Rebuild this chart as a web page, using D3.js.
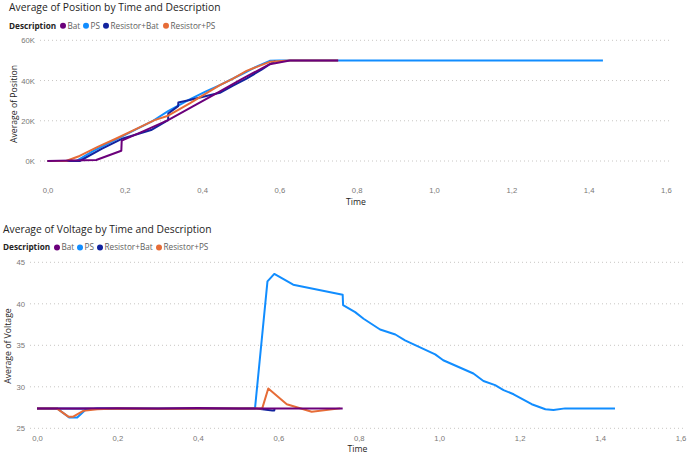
<!DOCTYPE html>
<html>
<head>
<meta charset="utf-8">
<script src="https://cdn.jsdelivr.net/npm/d3@7"></script>
<style>
  html, body { margin: 0; padding: 0; background: #ffffff; }
  svg { display: block; font-family: "Segoe UI", "Open Sans", sans-serif; }
</style>
</head>
<body>
<svg id="chart" width="690" height="455"></svg>
<script>
// ---------- data ----------
const seriesNames = ["Bat", "PS", "Resistor+Bat", "Resistor+PS"];
const xTicks = [0, 0.2, 0.4, 0.6, 0.8, 1.0, 1.2, 1.4, 1.6];
const positionTicks = [0, 20000, 40000, 60000];
const voltageTicks = [25, 30, 35, 40, 45];

// Position [time, value]
const positionBat = [[0,0],[0.126,500],[0.191,5100],[0.192,10100],[0.25,15000],[0.312,20300],[0.375,27000],[0.437,33600],[0.5,40500],[0.575,48100],[0.627,50000],[0.752,50000]];
const positionPS = [[0,0],[0.074,0],[0.12,5200],[0.178,10700],[0.23,15800],[0.273,20000],[0.312,24800],[0.368,30600],[0.41,34600],[0.446,37700],[0.506,43500],[0.545,47300],[0.575,49800],[0.6,50000],[1.437,50000]];
const positionResBat = [[0,0],[0.083,0],[0.14,6000],[0.195,11200],[0.238,13700],[0.268,15400],[0.312,20300],[0.3125,23600],[0.338,27300],[0.3385,29100],[0.368,30300],[0.446,33900],[0.48,37500],[0.515,41000],[0.555,45500],[0.584,49200],[0.59,49800]];
const positionResPS = [[0,0],[0.048,0],[0.083,2500],[0.13,7000],[0.178,11200],[0.23,16000],[0.277,20300],[0.312,22500],[0.368,28600],[0.405,33000],[0.446,37700],[0.48,41000],[0.515,44800],[0.575,49300],[0.627,50000],[0.752,50000]];

// Voltage [time, value]
const voltageBat = [[0,27.4],[0.1,27.4],[0.2,27.42],[0.3,27.4],[0.4,27.45],[0.5,27.4],[0.6,27.4],[0.76,27.4]];
const voltagePS = [[0,27.4],[0.05,27.4],[0.08,26.3],[0.1,26.3],[0.12,27.2],[0.15,27.4],[0.542,27.4],[0.573,42.7],[0.59,43.6],[0.637,42.3],[0.76,41.1],[0.761,39.85],[0.791,39.0],[0.812,38.2],[0.853,36.9],[0.891,36.3],[0.915,35.6],[0.99,33.9],[1.01,33.2],[1.085,31.6],[1.11,30.7],[1.139,30.2],[1.16,29.6],[1.185,29.1],[1.23,27.9],[1.264,27.3],[1.284,27.2],[1.313,27.4],[1.437,27.4]];
const voltageResBat = [[0,27.4],[0.3,27.35],[0.54,27.4],[0.585,27.15],[0.59,27.15],[0.5905,27.35]];
const voltageResPS = [[0,27.4],[0.049,27.4],[0.078,26.4],[0.09,26.4],[0.115,27.1],[0.15,27.3],[0.2,27.4],[0.35,27.35],[0.45,27.4],[0.56,27.4],[0.575,29.8],[0.621,27.9],[0.683,27.0],[0.754,27.4]];

const colors = {"Bat": "#6B007B", "PS": "#118DFF", "Resistor+Bat": "#12239E", "Resistor+PS": "#E66C37"};
const drawOrder = ["PS", "Resistor+Bat", "Resistor+PS", "Bat"];

const svg = d3.select("#chart");
const fmtX = d => d3.format(".1f")(d).replace(".", ",");

function drawChart(cfg) {
  const g = svg.append("g");
  // title
  g.append("text").attr("x", cfg.left).attr("y", cfg.titleY)
    .attr("font-size", 10.3).attr("fill", "#252423").text(cfg.title);
  // legend
  const lg = g.append("g").attr("transform", `translate(${cfg.left},${cfg.legendY})`);
  lg.append("text").attr("x", 0).attr("y", 0).attr("dy", "0.35em")
    .attr("font-size", 8.2).attr("font-weight", "bold").attr("fill", "#252423").text("Description");
  const legendX = cfg.legendX;
  seriesNames.forEach((s, i) => {
    lg.append("circle").attr("cx", legendX[i]).attr("cy", 0).attr("r", 3).attr("fill", colors[s]);
    lg.append("text").attr("x", legendX[i] + 4.5).attr("y", 0).attr("dy", "0.35em")
      .attr("font-size", 8.2).attr("fill", "#605E5C").text(s);
  });

  const x = d3.scaleLinear().domain(cfg.xDomain).range([cfg.plotX0, cfg.plotX1]);
  const y = d3.scaleLinear().domain(cfg.yDomain).range([cfg.plotY1, cfg.plotY0]);

  // gridlines
  g.append("g").selectAll("line").data(cfg.yTicks).join("line")
    .attr("x1", cfg.plotX0).attr("x2", cfg.plotX1)
    .attr("y1", d => y(d)).attr("y2", d => y(d))
    .attr("stroke", "#C8C6C4").attr("stroke-width", 1).attr("stroke-dasharray", "1,3");

  // y axis
  const ya = g.append("g").attr("transform", `translate(${cfg.yLabelX},0)`)
    .call(d3.axisLeft(y).tickValues(cfg.yTicks).tickSize(0).tickPadding(0).tickFormat(cfg.yFmt));
  ya.select(".domain").remove();
  ya.selectAll("text").attr("font-size", 7.7).attr("fill", "#7A7876").attr("font-family", null);

  // x axis
  const xa = g.append("g").attr("transform", `translate(0,${cfg.xLabelY})`)
    .call(d3.axisBottom(x).tickValues(xTicks).tickSize(0).tickPadding(0).tickFormat(fmtX));
  xa.select(".domain").remove();
  xa.selectAll("text").attr("font-size", 7.7).attr("fill", "#7A7876").attr("font-family", null).attr("dy", "0.35em");

  // axis titles
  g.append("text").attr("x", (cfg.plotX0 + cfg.plotX1) / 2).attr("y", cfg.xTitleY)
    .attr("text-anchor", "middle").attr("dy", "0.35em").attr("font-size", 8.7).attr("fill", "#252423").text("Time");
  g.append("text").attr("transform", `translate(${cfg.yTitleX},${cfg.yTitleCY}) rotate(-90)`)
    .attr("text-anchor", "middle").attr("dy", "0.35em").attr("font-size", 8.7).attr("fill", "#252423").text(cfg.yTitle);

  // lines
  const line = d3.line().x(d => x(d[0])).y(d => y(d[1]));
  drawOrder.forEach(s => {
    g.append("path").datum(cfg.data[s]).attr("d", line)
      .attr("fill", "none").attr("stroke", colors[s]).attr("stroke-width", 2)
      .attr("stroke-linejoin", "round").attr("stroke-linecap", "butt");
  });
}

drawChart({
  title: "Average of Position by Time and Description",
  left: 9, titleY: 11, legendY: 25.7, legendX: [54, 77, 97, 157],
  xDomain: [-0.0194, 1.6157], plotX0: 40, plotX1: 672,
  yDomain: [0, 60000], plotY0: 40.3, plotY1: 161,
  yTicks: positionTicks, yFmt: d => (d / 1000) + "K", yLabelX: 35,
  xLabelY: 190, xTitleY: 202, yTitleX: 14, yTitleCY: 104,
  yTitle: "Average of Position",
  data: {"Bat": positionBat, "PS": positionPS, "Resistor+Bat": positionResBat, "Resistor+PS": positionResPS}
});

drawChart({
  title: "Average of Voltage by Time and Description",
  left: 3, titleY: 232.5, legendY: 247.5, legendX: [54, 77, 97, 156],
  xDomain: [-0.0174, 1.6111], plotX0: 30, plotX1: 685,
  yDomain: [25, 45], plotY0: 262.3, plotY1: 428.3,
  yTicks: voltageTicks, yFmt: d => d, yLabelX: 25,
  xLabelY: 438, xTitleY: 449, yTitleX: 8, yTitleCY: 346,
  yTitle: "Average of Voltage",
  data: {"Bat": voltageBat, "PS": voltagePS, "Resistor+Bat": voltageResBat, "Resistor+PS": voltageResPS}
});
</script>
</body>
</html>
